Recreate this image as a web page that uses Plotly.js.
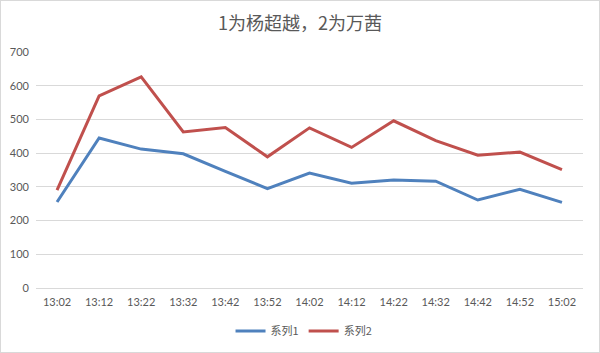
<!DOCTYPE html>
<html><head><meta charset="utf-8">
<script src="https://cdn.plot.ly/plotly-3.0.1.min.js"></script>
<style>
html,body{margin:0;padding:0;background:#fff;}
#wrap{width:598px;height:351px;border:1px solid #d9d9d9;}
</style></head>
<body><div id="wrap"><div id="chart"></div></div>
<script>
const categories = ["13:02","13:12","13:22","13:32","13:42","13:52","14:02","14:12","14:22","14:32","14:42","14:52","15:02"];
const series1 = [255,445,412,398,346,295,341,311,320,317,261,293,254];
const series2 = [290,570,626,463,476,389,475,417,496,437,394,403,351];
const seriesNames = ["系列1","系列2"];
const titleText = "1为杨超越，2为万茜";

const font = "Lato, 'Noto Sans CJK SC', sans-serif";
const traces = [
  {x: categories, y: series1, name: seriesNames[0], type: "scatter", mode: "lines",
   line: {color: "#4F81BD", width: 3}},
  {x: categories, y: series2, name: seriesNames[1], type: "scatter", mode: "lines",
   line: {color: "#C0504D", width: 3}}
];
const layout = {
  width: 598, height: 351,
  margin: {l: 35, r: 16, t: 51, b: 64, autoexpand: false},
  paper_bgcolor: "#fff", plot_bgcolor: "#fff",
  title: {text: titleText, x: 0.5, xanchor: "center", y: 0.935, yanchor: "middle",
          font: {family: "'Noto Sans CJK SC', sans-serif", size: 18, color: "#595959"}},
  xaxis: {type: "category", range: [-0.5, 12.5], tickfont: {family: font, size: 11, color: "#595959"},
          showgrid: false, showline: false, zeroline: false, ticks: "", ticklabelstandoff: 6,
          automargin: false, fixedrange: true},
  yaxis: {range: [0, 700], dtick: 100, tickfont: {family: font, size: 11, color: "#595959"},
          gridcolor: "#d9d9d9", gridwidth: 1, zeroline: true, zerolinecolor: "#d9d9d9",
          zerolinewidth: 1, showline: false, ticks: "", ticklabelstandoff: 6,
          automargin: false, fixedrange: true},
  showlegend: true,
  legend: {orientation: "h", x: 0.49, xanchor: "center", yref: "container", y: 0.06, yanchor: "middle",
           font: {family: "'Noto Sans CJK SC', sans-serif", size: 11, color: "#595959"},
           itemwidth: 30, tracegroupgap: 0, traceorder: "normal"}
};
Plotly.newPlot("chart", traces, layout, {displayModeBar: false, staticPlot: true});
</script></body></html>
